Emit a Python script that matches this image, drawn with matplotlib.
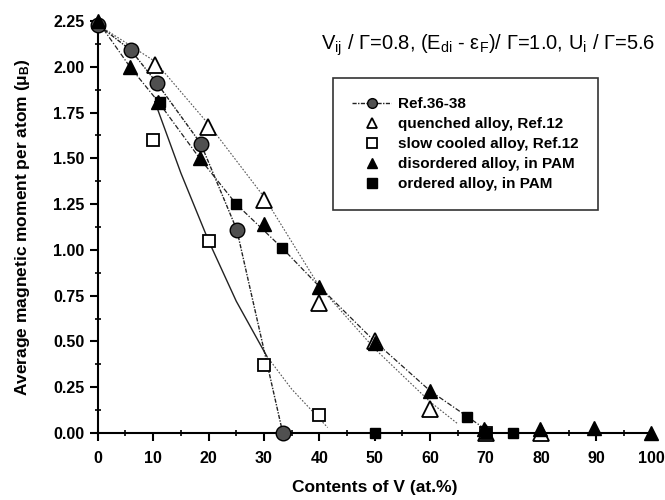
import numpy as np
import matplotlib
matplotlib.use("Agg")
import matplotlib.pyplot as plt
from matplotlib.ticker import MultipleLocator, FormatStrFormatter

plt.rcParams['font.family'] = ['Liberation Sans', 'DejaVu Sans']
plt.rcParams['mathtext.fontset'] = 'custom'
plt.rcParams['mathtext.rm'] = 'Liberation Sans'
plt.rcParams['mathtext.bf'] = 'Liberation Sans:bold'

# data
ref_x = [0, 6, 10.7, 18.6, 25.1, 33.4]
ref_y = [2.23, 2.09, 1.91, 1.58, 1.11, 0.0]

quench_x = [10.3, 19.9, 30, 40, 50, 60, 70, 80]
quench_y = [2.01, 1.67, 1.27, 0.71, 0.50, 0.13, 0.0, 0.0]

slow_x = [10, 20, 30, 40, 70]
slow_y = [1.60, 1.05, 0.37, 0.10, 0.0]

dis_x = [0, 5.8, 10.9, 18.4, 30, 40, 50, 60, 69.8, 79.8, 89.6, 99.8]
dis_y = [2.25, 2.0, 1.81, 1.50, 1.14, 0.80, 0.49, 0.23, 0.02, 0.02, 0.03, 0.0]

ord_x = [11.2, 25, 33.3, 50, 66.7, 70, 75]
ord_y = [1.81, 1.25, 1.01, 0.0, 0.09, 0.0, 0.0]

# guide curves
quench_fit_x = [0, 10.3, 19.9, 30, 40, 50, 60, 65]
quench_fit_y = [2.23, 2.03, 1.69, 1.29, 0.80, 0.46, 0.17, 0.05]
pam_fit_x = [0, 5.8, 10.9, 18.4, 25, 33.3, 40, 50, 60, 66.7, 70]
pam_fit_y = [2.25, 2.0, 1.81, 1.50, 1.25, 1.01, 0.80, 0.50, 0.23, 0.09, 0.02]
slow_fit_x = [10.3, 15, 20, 25, 30.5]
slow_fit_y = [1.81, 1.42, 1.05, 0.72, 0.42]
slow_tail_x = [30.5, 35, 41.5]
slow_tail_y = [0.42, 0.24, 0.03]

fig = plt.figure(figsize=(6.65, 5.0), dpi=100)
ax = fig.add_axes([0.147, 0.134, 0.833, 0.824])

ax.plot(quench_fit_x, quench_fit_y, color='#555555', lw=0.8, ls=(0, (1.5, 1.5)), zorder=1)
ax.plot(pam_fit_x, pam_fit_y, color='#222222', lw=0.9, ls=(0, (4, 1.5, 1, 1.5)), zorder=1)
ax.plot(slow_fit_x, slow_fit_y, color='#222222', lw=1.0, ls='-', zorder=1)
ax.plot(slow_tail_x, slow_tail_y, color='#555555', lw=0.8, ls=(0, (1.5, 1.5)), zorder=1)

ax.plot(ref_x, ref_y, color='#222222', lw=1.0, ls=(0, (3, 1, 1, 1)), marker='o', ms=10.5,
        mfc='#505050', mec='black', mew=1.0, label='Ref.36-38', zorder=3, clip_on=False)
ax.plot(quench_x, quench_y, ls='none', marker='^', ms=11, mfc='white', mec='black', mew=1.3,
        label='quenched alloy, Ref.12', zorder=3, clip_on=False)
ax.plot(slow_x, slow_y, ls='none', marker='s', ms=9, mfc='white', mec='black', mew=1.3,
        label='slow cooled alloy, Ref.12', zorder=3, clip_on=False)
ax.plot(dis_x, dis_y, ls='none', marker='^', ms=10, mfc='black', mec='black',
        label='disordered alloy, in PAM', zorder=4, clip_on=False)
ax.plot(ord_x, ord_y, ls='none', marker='s', ms=7.5, mfc='black', mec='black',
        label='ordered alloy, in PAM', zorder=4, clip_on=False)

ax.set_xlim(0, 100)
ax.set_ylim(0, 2.25)
for s in ['top', 'right']:
    ax.spines[s].set_visible(False)
for s in ['left', 'bottom']:
    ax.spines[s].set_linewidth(1.5)

ax.xaxis.set_major_locator(MultipleLocator(10))
ax.xaxis.set_minor_locator(MultipleLocator(5))
ax.yaxis.set_major_locator(MultipleLocator(0.25))
ax.yaxis.set_minor_locator(MultipleLocator(0.125))
ax.yaxis.set_major_formatter(FormatStrFormatter('%.2f'))
ax.tick_params(which='major', direction='out', length=6, width=1.5, labelsize=11.5)
ax.tick_params(axis='x', which='major', pad=7)
ax.tick_params(which='minor', direction='inout', length=5, width=1.2)
for lab in ax.get_xticklabels() + ax.get_yticklabels():
    lab.set_fontweight('bold')

ax.set_xlabel('Contents of V (at.%)', fontsize=12.5, fontweight='bold', labelpad=10)
ax.set_ylabel(r'Average magnetic moment per atom ($\mathbf{\mu_B}$)', fontsize=12.5,
              fontweight='bold', labelpad=15)

fig.text(0.985, 0.91,
         r'V$_{\mathrm{ij}}$ / Γ=0.8, (E$_{\mathrm{di}}$ - ε$_{\mathrm{F}}$)/ Γ=1.0, U$_{\mathrm{i}}$ / Γ=5.6',
         ha='right', va='center', fontsize=14.5)

leg = ax.legend(loc='upper left', bbox_to_anchor=(0.424, 0.862), borderaxespad=0,
                frameon=True, fancybox=False, edgecolor='black', handlelength=2.6,
                handletextpad=0.45, borderpad=1.25, labelspacing=0.4,
                prop={'weight': 'bold', 'size': 11})
leg.get_frame().set_linewidth(1.2)
for h in leg.legend_handles:
    h.set_markersize(7)

fig.savefig('out.png', dpi=100)
